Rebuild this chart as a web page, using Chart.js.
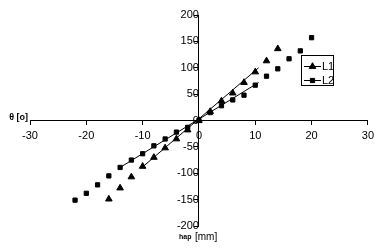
<!DOCTYPE html>
<html>
<head>
<meta charset="utf-8">
<script src="https://cdn.jsdelivr.net/npm/chart.js@4.4.0/dist/chart.umd.min.js"></script>
<style>
  html, body { margin: 0; padding: 0; background: #fff; overflow: hidden; }
  #wrap { width: 379px; height: 248px; position: relative; }
</style>
</head>
<body>
<div id="wrap"><canvas id="chart" width="379" height="248"></canvas></div>
<script>
// measured series (x in mm, y in degrees)
const l1X = [-16, -14, -12, -10, -8, -6, -4, -2, 0, 2, 4, 6, 8, 10, 12, 14]
const l1Y = [-149, -128, -107, -87, -70, -52, -35, -18, 0, 17, 37, 52, 72, 92, 113, 136]
const l2X = [-22, -20, -18, -16, -14, -12, -10, -8, -6, -4, -2, 0, 2, 4, 6, 8, 10, 12, 14, 16, 18, 20]
const l2Y = [-151, -138, -122, -105, -89, -75, -63, -48, -35, -22, -13, 0, 15, 28, 39, 48, 67, 84, 98, 117, 132, 157]
// linear trend segments
const l1TrendX = [-10, 10.6]
const l1TrendY = [-88, 100]
const l2TrendX = [-14, 10.6]
const l2TrendY = [-89, 72]

const xTicks = [-30, -20, -10, 0, 10, 20, 30]
const yTicks = [-200, -150, -100, -50, 0, 50, 100, 150, 200]

const toPts = (xs, ys) => xs.map((x, i) => ({ x: x, y: ys[i] }))
const FONT = "'Liberation Sans', Arial, sans-serif"

// draws the boxed legend and the two axis captions
const decorations = {
    id: 'decorations',
    afterDraw(chart) {
        const ctx = chart.ctx
        ctx.save()
        // legend box
        ctx.fillStyle = '#fff'
        ctx.fillRect(301, 55, 33, 31)
        ctx.strokeStyle = '#000'
        ctx.lineWidth = 1
        ctx.strokeRect(301.5, 55.5, 32, 30)
        const entries = [
            { label: 'L1', style: 'triangle', y: 66 },
            { label: 'L2', style: 'rect', y: 80 }
        ]
        entries.forEach(e => {
            ctx.beginPath()
            ctx.moveTo(304, e.y + 0.5)
            ctx.lineTo(321, e.y + 0.5)
            ctx.stroke()
            ctx.fillStyle = '#000'
            Chart.helpers.drawPoint(ctx, {
                pointStyle: e.style,
                radius: e.style === 'triangle' ? 3.8 : 3,
                borderWidth: 1
            }, 312.5, e.y + 0.5)
            ctx.font = '11px ' + FONT
            ctx.textAlign = 'left'
            ctx.textBaseline = 'middle'
            ctx.fillText(e.label, 322, e.y + 1)
        })
        // axis captions
        ctx.fillStyle = '#000'
        ctx.font = 'bold 9px ' + FONT
        ctx.textAlign = 'right'
        ctx.textBaseline = 'middle'
        ctx.fillText('θ [o]', 28, 118)
        ctx.textAlign = 'left'
        ctx.font = 'bold 7px ' + FONT
        ctx.fillText('hap', 179, 237)
        ctx.font = '10px ' + FONT
        ctx.fillText('[mm]', 195, 237)
        ctx.restore()
    }
}

const pointSet = (label, data, style, radius) => ({
    label: label,
    data: data,
    showLine: false,
    pointStyle: style,
    pointRadius: radius,
    pointBackgroundColor: '#000',
    pointBorderColor: '#000',
    pointBorderWidth: 1
})

const trendSet = (data) => ({
    data: data,
    showLine: true,
    borderColor: '#000',
    borderWidth: 1,
    pointRadius: 0
})

new Chart(document.getElementById('chart'), {
    type: 'scatter',
    data: {
        datasets: [
            trendSet(toPts(l1TrendX, l1TrendY)),
            trendSet(toPts(l2TrendX, l2TrendY)),
            pointSet('L1', toPts(l1X, l1Y), 'triangle', 3.8),
            pointSet('L2', toPts(l2X, l2Y), 'rect', 3)
        ]
    },
    options: {
        responsive: false,
        animation: false,
        layout: {
            padding: { left: 30, right: 11, top: 15, bottom: 22 }
        },
        plugins: {
            legend: { display: false },
            tooltip: { enabled: false }
        },
        scales: {
            x: {
                type: 'linear',
                position: { y: 0 },
                min: -30,
                max: 30,
                afterBuildTicks: axis => { axis.ticks = xTicks.map(v => ({ value: v })) },
                grid: { drawOnChartArea: false, drawTicks: true, tickLength: 4, color: '#000' },
                border: { color: '#000', width: 1 },
                ticks: { color: '#000', font: { family: FONT, size: 11 }, padding: 5, maxRotation: 0 }
            },
            y: {
                type: 'linear',
                position: { x: 0 },
                min: -200,
                max: 200,
                afterBuildTicks: axis => { axis.ticks = yTicks.map(v => ({ value: v })) },
                grid: { drawOnChartArea: false, drawTicks: true, tickLength: 4, color: '#000' },
                border: { color: '#000', width: 1 },
                ticks: { color: '#000', font: { family: FONT, size: 11 }, padding: 8 }
            }
        }
    },
    plugins: [decorations]
})
</script>
</body>
</html>
